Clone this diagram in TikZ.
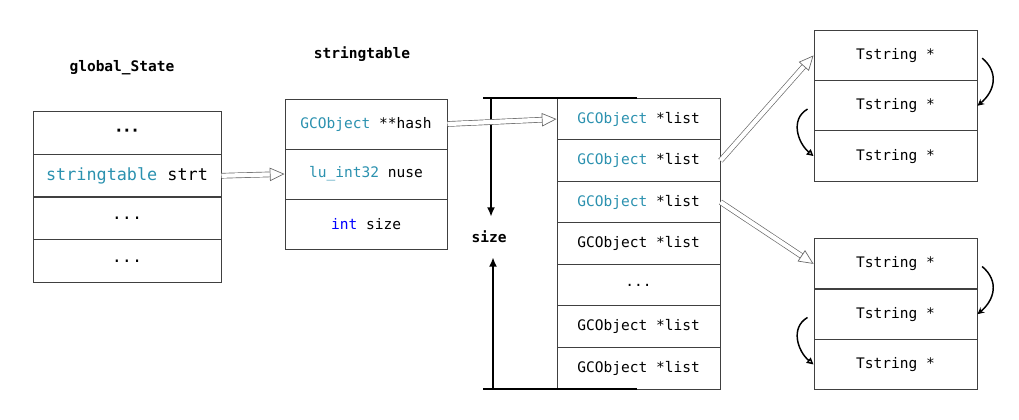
\documentclass[tikz,border=0pt]{standalone}
\usepackage{fontspec}
\setmonofont{DejaVu Sans Mono}
\usetikzlibrary{arrows.meta}
\definecolor{typecol}{RGB}{43,145,175}
\definecolor{kwcol}{RGB}{0,0,255}
\definecolor{boxline}{RGB}{64,64,64}
\newcommand\codesz{\ttfamily\fontsize{10.9}{13}\selectfont}
\newcommand\bigsz{\ttfamily\fontsize{12.6}{15}\selectfont}
\newcommand\tyname[1]{\textcolor{typecol}{#1}}
\newcommand\gcotype{\tyname{GCObject}}
\newcommand\threedots{...}
\tikzset{
  cell/.style={draw=boxline, line width=0.75pt, inner sep=0pt, font=\codesz},
  gscell/.style={cell, minimum width=141pt, minimum height=31.9pt, font=\bigsz},
  stcell/.style={cell, minimum width=121.5pt, minimum height=37.5pt},
  listcell/.style={cell, minimum width=122.25pt, minimum height=31.15pt},
  tscell/.style={cell, minimum width=122.25pt, minimum height=37.7pt},
  title/.style={font=\codesz\bfseries},
  ptr/.style={draw=boxline!80, line width=0.5pt, double=white, double distance=3.2pt,
    -{Triangle[fill=white, length=11pt, width=10pt]}},
  szline/.style={line width=1.5pt},
  szarrow/.style={line width=1.5pt, -{Latex[length=7pt, width=6pt]}},
  nextarrow/.style={line width=1.1pt, -{Stealth[length=5pt, width=5pt]}},
  backarrow/.style={line width=1.1pt, -{Triangle[open, length=5pt, width=5pt]}}
}
\begin{document}
\begin{tikzpicture}[x=0.75pt, y=-0.75pt]
  \useasboundingbox (0,0) rectangle (1019,419);
  % global_State
  \node[title] (gstitle) at (122,68) {global\_State};
  \node[gscell] (gs1) at (127,133.25) {\textbf{·\kern-1.5pt·\kern-1.5pt·}};
  \node[gscell] (gs2) at (127,175.75) {\tyname{stringtable} strt};
  \node[gscell] (gs3) at (127,218.25) {\threedots};
  \node[gscell] (gs4) at (127,260.75) {\threedots};
  % stringtable
  \node[title] (sttitle) at (362,54) {stringtable};
  \node[stcell] (st1) at (366,124) {\gcotype{} **hash};
  \node[stcell] (st2) at (366,174) {\tyname{lu\_int32} nuse};
  \node[stcell] (st3) at (366,224) {\textcolor{kwcol}{int} size};
  % hash list
  \foreach \txt [count=\i] in {\gcotype{} *list, \gcotype{} *list, \gcotype{} *list,
      GCObject *list, \threedots, GCObject *list, GCObject *list}
    \node[listcell] (l\i) at (638.5,{119.07+41.53*(\i-1)}) {\txt};
  % size bracket
  \coordinate (brTL) at (483,97.5); \coordinate (brTR) at (637,97.5);
  \coordinate (brBL) at (483,389);  \coordinate (brBR) at (637,389);
  \draw[szline] (brTL) -- (brTR); \draw[szline] (brBL) -- (brBR);
  \node[title, minimum height=30pt, inner sep=0pt] (szlbl) at (489,237) {size};
  \coordinate (sztop) at (491,97.5); \coordinate (szbot) at (493,389);
  \draw[szarrow] (sztop) -- (sztop |- szlbl.north);
  \draw[szarrow] (szbot) -- (szbot |- szlbl.south);
  % Tstring chains
  \foreach \b/\ytop in {tsA/30.3, tsB/238.7} {
    \foreach \i in {1,2,3}
      \node[tscell] (\b\i) at (895.5,{\ytop+25.15+50.3*(\i-1)}) {Tstring *};
    \draw[nextarrow] ([xshift=3.5pt, yshift=-2pt]\b1.east) to[out=-40, in=40, looseness=1.2] (\b2.east);
    \draw[backarrow] ([xshift=-4.5pt, yshift=-2.5pt]\b2.west) to[out=-150, in=140, looseness=1.1] (\b3.west);
  }
  % pointers
  \draw[ptr] (gs2.east) -- (st2.west);
  \draw[ptr] (st1.east) -- (l1.west);
  \draw[ptr] (l2.east) -- (tsA1.west);
  \draw[ptr] (l3.east) -- (tsB1.west);
\end{tikzpicture}
\end{document}
